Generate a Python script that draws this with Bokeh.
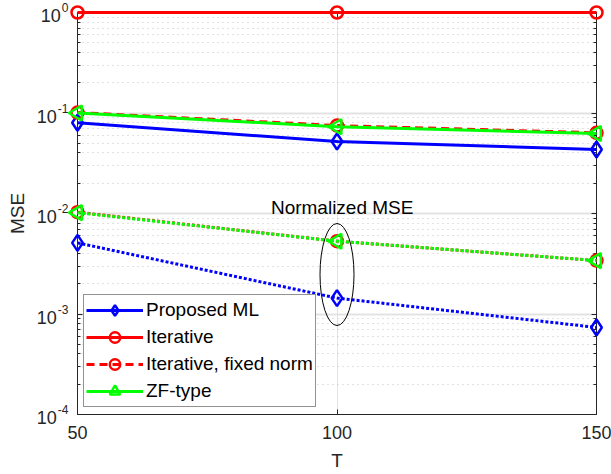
import math
from bokeh.plotting import figure
from bokeh.models import (LogAxis, LinearAxis, FixedTicker, Legend, LegendItem,
                          Label, CustomJSTickFormatter)
from bokeh.core.properties import value
from bokeh.embed import file_html
from bokeh.resources import INLINE

# ---------------- data ----------------
T = [50, 100, 150]
mse_proposed = [0.080, 0.052, 0.0433]
mse_iterative = [1.0, 1.0, 1.0]
mse_iter_fixed = [0.101, 0.075, 0.0635]
mse_zf = [0.100, 0.073, 0.0625]

nmse_proposed = [0.0051, 0.00144, 0.000735]
nmse_iterative = [0.0103, 0.0053, 0.0034]
nmse_zf = [0.0102, 0.0053, 0.0034]

x_ticks = [50, 100, 150]
y_ticks = [1e-4, 1e-3, 1e-2, 1e-1, 1e0]
y_tick_base = ["10", "10", "10", "10", "10"]
y_tick_exponents = ["-4", "-3", "-2", "-1", "0"]
y_minor = [m * d for d in [1e-4, 1e-3, 1e-2, 1e-1] for m in range(2, 10)]

legend_labels = ["Proposed ML", "Iterative", "Iterative, fixed norm", "ZF-type"]
note_text = "Normalized MSE"
note_x, note_y = 101, 0.0115
ellipse_x, ellipse_y = 100, 10 ** -2.607

FONT = "Liberation Sans"
DARK = "#262626"

p = figure(width=611, height=474, y_axis_type="log",
           x_range=(50, 150), y_range=(1e-4, 1.0),
           output_backend="svg", toolbar_location=None)
p.min_border_left = 77
p.min_border_right = 15
p.min_border_top = 12
p.min_border_bottom = 60
p.outline_line_color = None
p.background_fill_color = "white"
p.border_fill_color = "white"

yt = FixedTicker(ticks=y_ticks, minor_ticks=y_minor)
xt = FixedTicker(ticks=x_ticks, minor_ticks=[])

xax = p.below[0]
yax = p.left[0]
xax.ticker = xt
xax.axis_label = "T"
yax.ticker = yt
yax.formatter = CustomJSTickFormatter(code="return ''")
yax.axis_label = "MSE"

p.add_layout(LogAxis(ticker=yt, formatter=CustomJSTickFormatter(code="return ''")), "right")
p.add_layout(LinearAxis(ticker=xt, formatter=CustomJSTickFormatter(code="return ''")), "above")

for ax in p.axis:
    ax.axis_line_color = DARK
    ax.axis_line_width = 1
    ax.major_tick_line_color = DARK
    ax.minor_tick_line_color = DARK
    ax.major_tick_in = 5
    ax.major_tick_out = 0
    ax.minor_tick_in = 3
    ax.minor_tick_out = 0
    ax.major_label_text_font = FONT
    ax.major_label_text_font_size = "18px"
    ax.major_label_text_color = DARK
    ax.axis_label_text_font = FONT
    ax.axis_label_text_font_size = "19px"
    ax.axis_label_text_font_style = "normal"
    ax.axis_label_text_color = DARK

yax.major_label_standoff = 0
yax.axis_label_standoff = 50
xax.major_label_standoff = 11
xax.axis_label_standoff = 8

# y tick labels drawn as base + superscript exponent (MATLAB style)
EXP_PX = 12
char_w = {"-": 0.333}
exp_widths = [sum(char_w.get(c, 0.556) for c in e) * EXP_PX for e in y_tick_exponents]
x_left = [x_ticks[0]] * len(y_ticks)
p.text(x=x_left, y=y_ticks, text=y_tick_exponents, x_offset=-9, y_offset=-5,
       text_align="right", text_baseline="middle", text_font=value(FONT),
       text_font_size=f"{EXP_PX}px", text_color=DARK, level="overlay")
p.text(x=x_left, y=y_ticks, text=y_tick_base, x_offset=[-9 - w - 1 for w in exp_widths],
       y_offset=3, text_align="right", text_baseline="middle", text_font=value(FONT),
       text_font_size="18px", text_color=DARK, level="overlay")

p.xgrid.grid_line_color = "#e3e3e3"
p.xgrid.grid_line_width = 1
p.ygrid.grid_line_color = "#e3e3e3"
p.ygrid.grid_line_width = 2
p.ygrid.minor_grid_line_color = "#c4c4c4"
p.ygrid.minor_grid_line_dash = "1 4"
p.ygrid.minor_grid_line_width = 1

BLUE, RED, GREEN = "#0000ff", "#ff0000", "#00ff00"
LW = 3


def series(y, color, marker, dash, size, angle=0.0):
    r1 = p.line(T, y, line_color=color, line_width=LW, line_dash=dash, level="overlay")
    r2 = p.scatter(T, y, marker=marker, size=size, angle=angle, fill_color="white",
                   fill_alpha=0.0, line_color=color, line_width=2.5, level="overlay")
    return [r1, r2]


r_prop = series(mse_proposed, BLUE, "diamond", "solid", 16)
r_iter = series(mse_iterative, RED, "circle", "solid", 12)
r_fix = series(mse_iter_fixed, RED, "circle", "8 5", 12)
r_zf = series(mse_zf, GREEN, "triangle", "solid", 15, math.pi / 2)

series(nmse_proposed, BLUE, "diamond", "3 2", 16)
series(nmse_iterative, RED, "circle", "3 2", 12)
series(nmse_zf, GREEN, "triangle", "3 2", 15, math.pi / 2)

p.ellipse(x=[ellipse_x], y=[ellipse_y], width=34, height=102,
          width_units="screen", height_units="screen",
          fill_color=None, line_color="black", line_width=1, level="overlay")

p.add_layout(Label(x=note_x, y=note_y, text=note_text, text_align="center",
                   text_baseline="middle", text_font=FONT, text_font_size="19px",
                   text_color="black"))

legend = Legend(items=[LegendItem(label=l, renderers=r) for l, r in
                       zip(legend_labels, [r_prop, r_iter, r_fix, r_zf])],
                location=(6, 7), glyph_width=57, glyph_height=26, label_height=20,
                spacing=1, label_standoff=3, padding=2, margin=0,
                label_text_font=FONT, label_text_font_size="19px",
                label_text_color="black", border_line_color=DARK,
                border_line_width=1, background_fill_color="white",
                background_fill_alpha=1.0)
p.add_layout(legend)

open("out.html", "w").write(file_html(p, INLINE))
